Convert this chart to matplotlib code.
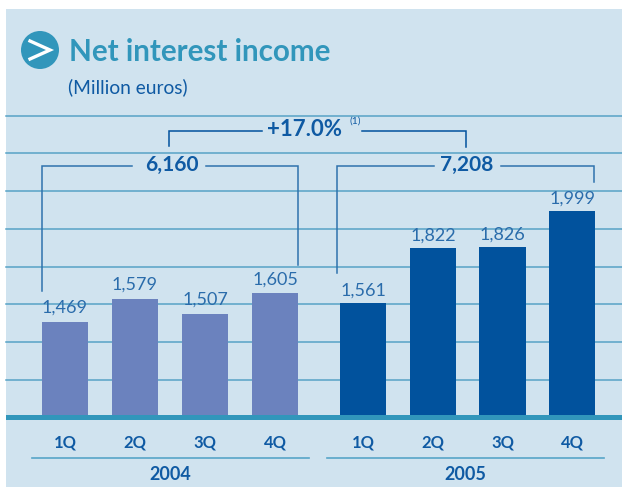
import numpy as np
import matplotlib
matplotlib.use('Agg')
import matplotlib.pyplot as plt
from matplotlib.patches import Circle, Rectangle

quarters = ['1Q', '2Q', '3Q', '4Q']
years = ['2004', '2005']
values_2004 = [1469, 1579, 1507, 1605]
values_2005 = [1561, 1822, 1826, 1999]
labels_2004 = ['1,469', '1,579', '1,507', '1,605']
labels_2005 = ['1,561', '1,822', '1,826', '1,999']
totals = ['6,160', '7,208']
growth = '+17.0%'
grid_values = [1191, 1373, 1552, 1730, 1911, 2092, 2274, 2451]

W, H = 622, 487
BASE_PX = 415.0
PX_PER_UNIT = 0.2094
BASE_VAL = 1024.0

PANEL = '#d0e3ef'
TEAL = '#3196bb'
GRID = '#57a2c6'
BLUE = '#0f5aa3'
C2004 = '#6b82be'
C2005 = '#01529d'
FONT = 'Lato'

fig = plt.figure(figsize=(W / 100, H / 100), dpi=100)

# pixel axes for the panel and the decoration
deco = fig.add_axes([0, 0, 1, 1], zorder=3)
deco.set_xlim(0, W)
deco.set_ylim(H, 0)
deco.axis('off')

# value axes for bars and grid
ax = fig.add_axes([0, 0, 1, 1], zorder=2)
ax.patch.set_alpha(0)
ax.set_xlim(-65 / 70, (W - 65) / 70)
ax.set_ylim(BASE_VAL - (H - BASE_PX) / PX_PER_UNIT, BASE_VAL + BASE_PX / PX_PER_UNIT)
ax.axis('off')

fig.patches.append(Rectangle((6 / W, 0), (W - 6) / W, (H - 9) / H, transform=fig.transFigure,
                             facecolor=PANEL, edgecolor='none', zorder=0))

x04 = np.arange(4)
x05 = np.arange(4) * 0.995 + 4.26
for v in grid_values:
    ax.plot([-59 / 70, (W - 65) / 70], [v, v], color=GRID, lw=1.1, zorder=1)

ax.bar(x04, np.array(values_2004) - BASE_VAL, bottom=BASE_VAL, width=46 / 70, color=C2004, zorder=2)
ax.bar(x05, np.array(values_2005) - BASE_VAL, bottom=BASE_VAL, width=46 / 70, color=C2005, zorder=2)

for xs, vals, labs, gap in [(x04, values_2004, labels_2004, 9), (x05, values_2005, labels_2005, 7)]:
    for x, v, lab in zip(xs, vals, labs):
        ax.annotate(lab, (x, v), xytext=(0, gap), textcoords='offset pixels', ha='center', va='baseline',
                    color='#2a6cab', fontsize=13, family=FONT, zorder=5)

# baseline band
deco.add_patch(Rectangle((6, 415), W - 6, 5, facecolor=TEAL, edgecolor='none'))

# title
deco.add_patch(Circle((40, 50), 19, facecolor=TEAL, edgecolor='none'))
deco.plot([30, 50, 30], [41, 50, 59], color='white', lw=2.4, solid_joinstyle='miter')
deco.text(69, 52, 'Net interest income', color=TEAL, fontsize=21.3, fontweight='bold', family=FONT, va='center')
deco.text(68, 87, '(Million euros)', color=BLUE, fontsize=13.8, family=FONT, va='center')

# brackets
line_kw = dict(color='#2f72ad', lw=1.1, solid_joinstyle='miter')
deco.plot([42, 42, 132], [291, 166, 166], **line_kw)
deco.plot([206, 298, 298], [166, 166, 265], **line_kw)
deco.plot([337, 337, 434], [273, 166, 166], **line_kw)
deco.plot([501, 594, 594], [166, 166, 182], **line_kw)
top_kw = dict(color=C2005, lw=1.1, solid_joinstyle='miter')
deco.plot([169, 169, 262], [146, 131, 131], **top_kw)
deco.plot([362, 466, 466], [131, 131, 147], **top_kw)

deco.text(172, 165, totals[0], color=BLUE, fontsize=15, fontweight='bold', family=FONT, ha='center', va='center')
deco.text(467, 165, totals[1], color=BLUE, fontsize=15, fontweight='bold', family=FONT, ha='center', va='center')
deco.text(304, 129, growth, color=BLUE, fontsize=16, fontweight='bold', family=FONT, ha='center', va='center')
deco.text(355, 121, '(1)', color=BLUE, fontsize=7.5, family=FONT, ha='center', va='center')

# quarter and year labels
for xs, year, xa, xb in [(x04, years[0], 32, 309), (x05, years[1], 327, 604)]:
    for x, q in zip(xs, quarters):
        px = 65 + 70 * x
        deco.text(px, 443, q, color=BLUE, fontsize=12, fontweight='bold', family=FONT, ha='center', va='center')
    deco.plot([xa, xb], [457.5, 457.5], color='#57a5c8', lw=1.2)
    deco.text((xa + xb) / 2, 475, year, color=BLUE, fontsize=13, fontweight='bold', family=FONT, ha='center', va='center')

fig.savefig('out.png', dpi=100)
